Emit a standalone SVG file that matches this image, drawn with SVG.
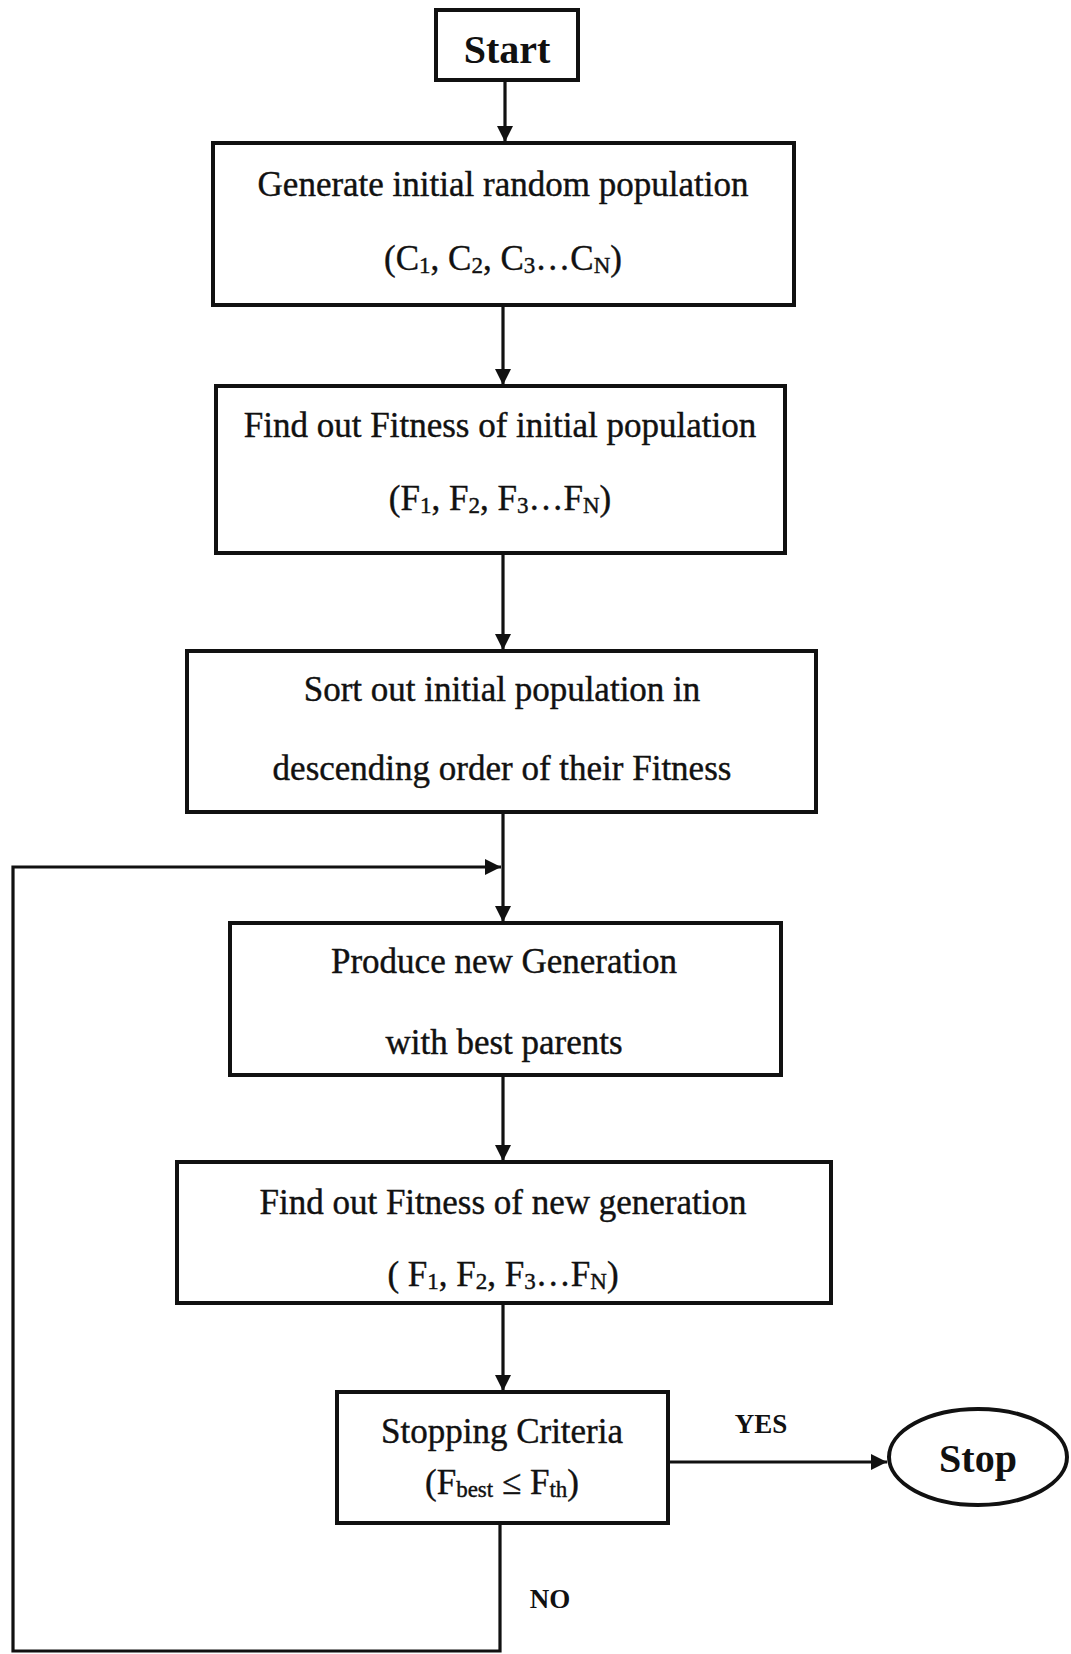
<svg xmlns="http://www.w3.org/2000/svg" width="1071" height="1654" viewBox="0 0 1071 1654">
  <style>
    .box { fill: #ffffff; stroke: #111; stroke-width: 4; }
    .txt { font-family: "Liberation Serif", "Times New Roman", serif; font-size: 35px; fill: #111; stroke: #111; stroke-width: 0.4; text-anchor: middle; }
    .big { font-family: "Liberation Serif", "Times New Roman", serif; font-size: 40px; font-weight: bold; fill: #111; text-anchor: middle; }
    .lbl { font-family: "Liberation Serif", "Times New Roman", serif; font-size: 27px; font-weight: bold; fill: #111; text-anchor: middle; }
    .sub { font-size: 23px; }
    .line { fill: none; stroke: #111; stroke-width: 3.2; }
  </style>
  <defs>
    <marker id="arrow" viewBox="0 0 16 16" refX="16" refY="8" markerWidth="16" markerHeight="16" markerUnits="userSpaceOnUse" orient="auto">
      <path d="M0,0 L16,8 L0,16 Z" fill="#111"/>
    </marker>
  </defs>
  <rect width="1071" height="1654" fill="#ffffff"/>

  <g id="connectors">
    <line class="line" x1="505" y1="81" x2="505" y2="142" marker-end="url(#arrow)"/>
    <line class="line" x1="503" y1="305" x2="503" y2="385" marker-end="url(#arrow)"/>
    <line class="line" x1="503" y1="553" x2="503" y2="650" marker-end="url(#arrow)"/>
    <line class="line" x1="503" y1="812" x2="503" y2="922" marker-end="url(#arrow)"/>
    <line class="line" x1="503" y1="1075" x2="503" y2="1161" marker-end="url(#arrow)"/>
    <line class="line" x1="503" y1="1303" x2="503" y2="1391" marker-end="url(#arrow)"/>
    <line class="line" x1="668" y1="1462" x2="887" y2="1462" marker-end="url(#arrow)"/>
    <polyline class="line" points="500,1523 500,1651 13,1651 13,867 501,867" marker-end="url(#arrow)"/>
    <text class="lbl" x="761" y="1433">YES</text>
    <text class="lbl" x="550" y="1608">NO</text>
  </g>

  <g id="start">
    <rect class="box" x="436" y="10" width="142" height="70"/>
    <text class="big" x="507" y="63">Start</text>
  </g>

  <g id="generate">
    <rect class="box" x="213" y="143" width="581" height="162"/>
    <text class="txt" x="503" y="196">Generate initial random population</text>
    <text class="txt" x="503" y="270">(C<tspan class="sub" dy="3">1</tspan><tspan dy="-3">, C</tspan><tspan class="sub" dy="3">2</tspan><tspan dy="-3">, C</tspan><tspan class="sub" dy="3">3</tspan><tspan dy="-3">…C</tspan><tspan class="sub" dy="3">N</tspan><tspan dy="-3">)</tspan></text>
  </g>

  <g id="fitness-initial">
    <rect class="box" x="216" y="386" width="569" height="167"/>
    <text class="txt" x="500" y="437">Find out Fitness of initial population</text>
    <text class="txt" x="500" y="510">(F<tspan class="sub" dy="3">1</tspan><tspan dy="-3">, F</tspan><tspan class="sub" dy="3">2</tspan><tspan dy="-3">, F</tspan><tspan class="sub" dy="3">3</tspan><tspan dy="-3">…F</tspan><tspan class="sub" dy="3">N</tspan><tspan dy="-3">)</tspan></text>
  </g>

  <g id="sort">
    <rect class="box" x="187" y="651" width="629" height="161"/>
    <text class="txt" x="502" y="701">Sort out initial population in</text>
    <text class="txt" x="502" y="780">descending order of their Fitness</text>
  </g>

  <g id="produce">
    <rect class="box" x="230" y="923" width="551" height="152"/>
    <text class="txt" x="504" y="973">Produce new Generation</text>
    <text class="txt" x="504" y="1054">with best parents</text>
  </g>

  <g id="fitness-new">
    <rect class="box" x="177" y="1162" width="654" height="141"/>
    <text class="txt" x="503" y="1214">Find out Fitness of new generation</text>
    <text class="txt" x="503" y="1286">( F<tspan class="sub" dy="3">1</tspan><tspan dy="-3">, F</tspan><tspan class="sub" dy="3">2</tspan><tspan dy="-3">, F</tspan><tspan class="sub" dy="3">3</tspan><tspan dy="-3">…F</tspan><tspan class="sub" dy="3">N</tspan><tspan dy="-3">)</tspan></text>
  </g>

  <g id="stopping">
    <rect class="box" x="337" y="1392" width="331" height="131"/>
    <text class="txt" x="502" y="1443">Stopping Criteria</text>
    <text class="txt" x="502" y="1494">(F<tspan class="sub" dy="3">best</tspan><tspan dy="-3"> ≤ F</tspan><tspan class="sub" dy="3">th</tspan><tspan dy="-3">)</tspan></text>
  </g>

  <g id="stop">
    <ellipse class="box" cx="978" cy="1457" rx="89" ry="48"/>
    <text class="big" x="978" y="1472">Stop</text>
  </g>
</svg>
